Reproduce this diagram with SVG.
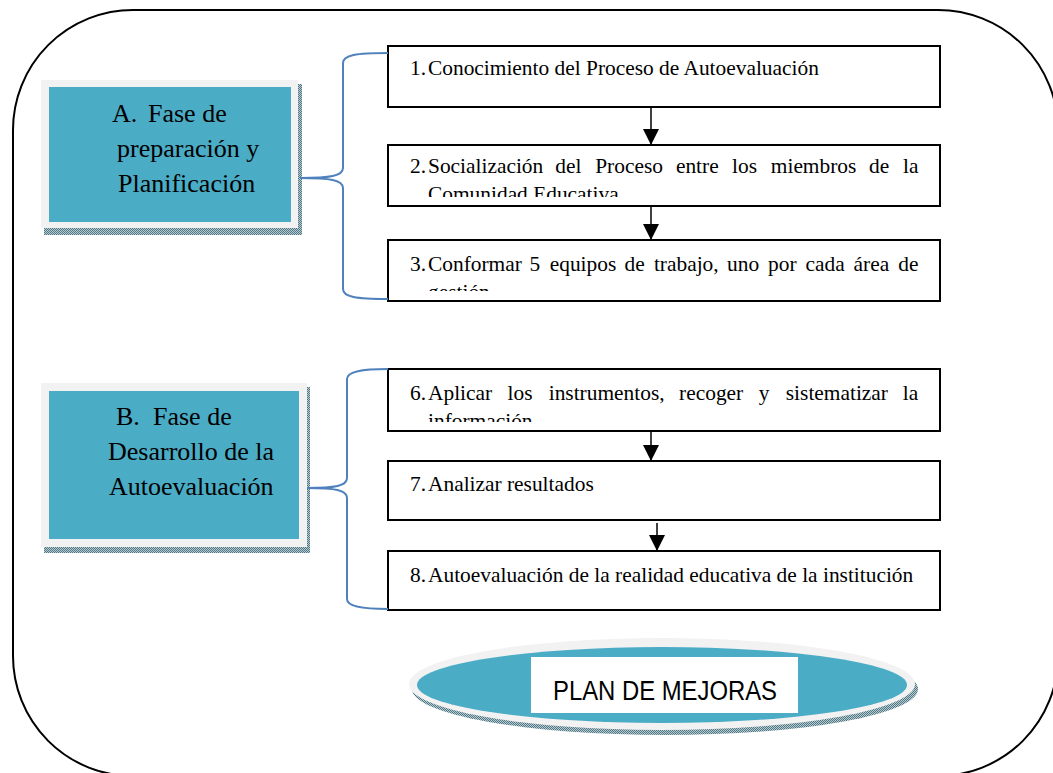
<svg xmlns="http://www.w3.org/2000/svg" width="1053" height="773" viewBox="0 0 1053 773">
<style>
.box{fill:#fff;stroke:#000;stroke-width:2}
.t{font-family:"Liberation Serif","Times New Roman",serif;font-size:21.4px;fill:#000}
.big{font-family:"Liberation Serif","Times New Roman",serif;font-size:26px;fill:#000}
.frame{fill:#f2f2f2}
.teal{fill:#4bacc6}
.shadow{fill:url(#dots)}
.conn{fill:none;stroke:#000;stroke-width:1.5}
.brace{fill:none;stroke:#4f81bd;stroke-width:2}
</style>
<defs>
<pattern id="dots" width="2" height="2" patternUnits="userSpaceOnUse">
<rect width="2" height="2" fill="#b9cbd0"/>
<rect width="1" height="1" fill="#4f7884"/>
<rect x="1" y="1" width="1" height="1" fill="#4f7884"/>
</pattern>
<marker id="ah" markerUnits="userSpaceOnUse" markerWidth="16" markerHeight="16" viewBox="0 0 16 16" refX="16" refY="8" orient="auto">
<path d="M0,0 L16,8 L0,16 Z" fill="#000"/>
</marker>
<clipPath id="c2"><rect x="389" y="146" width="550" height="51"/></clipPath>
<clipPath id="c3"><rect x="389" y="241" width="550" height="50"/></clipPath>
<clipPath id="c6"><rect x="389" y="370" width="550" height="52"/></clipPath>
</defs>

<rect id="outer" x="13" y="10" width="1045" height="766" rx="120" ry="120" fill="none" stroke="#000" stroke-width="2"/>

<g id="phaseA">
<rect class="shadow" x="44" y="84" width="258" height="151"/>
<rect class="frame" x="41" y="80" width="257" height="148"/>
<rect class="teal" x="49" y="87" width="242" height="135"/>
<text class="big"><tspan x="112" y="122">A.</tspan><tspan x="148" y="122">Fase de</tspan><tspan x="117" y="157">preparación y</tspan><tspan x="118" y="192">Planificación</tspan></text>
</g>

<g id="phaseB">
<rect class="shadow" x="44" y="387" width="266" height="166"/>
<rect class="frame" x="41" y="383" width="266" height="164"/>
<rect class="teal" x="49" y="391" width="250" height="148"/>
<text class="big"><tspan x="116" y="425">B.</tspan><tspan x="153" y="425">Fase de</tspan><tspan x="108" y="460">Desarrollo de la</tspan><tspan x="109" y="495">Autoevaluación</tspan></text>
</g>

<g id="step1">
<rect class="box" x="388" y="46" width="552" height="61"/>
<text class="t"><tspan x="410" y="75">1.</tspan><tspan x="428" y="75">Conocimiento del Proceso de Autoevaluación</tspan></text>
</g>

<g id="step2">
<rect class="box" x="388" y="145" width="552" height="61"/>
<g clip-path="url(#c2)">
<text class="t" y="173"><tspan x="410">2.</tspan><tspan x="428">Socialización</tspan><tspan x="555.3">del</tspan><tspan x="595.2">Proceso</tspan><tspan x="675.9">entre</tspan><tspan x="732.1">los</tspan><tspan x="770.8">miembros</tspan><tspan x="869">de</tspan><tspan x="903">la</tspan></text>
<text class="t" x="428" y="201">Comunidad Educativa</text>
</g>
</g>

<g id="step3">
<rect class="box" x="388" y="240" width="552" height="61"/>
<g clip-path="url(#c3)">
<text class="t" y="271"><tspan x="410">3.</tspan><tspan x="428">Conformar</tspan><tspan x="529.6">5</tspan><tspan x="549.7">equipos</tspan><tspan x="624.5">de</tspan><tspan x="653.9">trabajo,</tspan><tspan x="727">uno</tspan><tspan x="768">por</tspan><tspan x="805.6">cada</tspan><tspan x="853.6">área</tspan><tspan x="898.2">de</tspan></text>
<text class="t" x="428" y="299">gestión</text>
</g>
</g>

<g id="step6">
<rect class="box" x="388" y="369" width="552" height="62"/>
<g clip-path="url(#c6)">
<text class="t" y="400"><tspan x="410">6.</tspan><tspan x="428">Aplicar</tspan><tspan x="507.6">los</tspan><tspan x="548.7">instrumentos,</tspan><tspan x="679.1">recoger</tspan><tspan x="758.7">y</tspan><tspan x="785.8">sistematizar</tspan><tspan x="902.7">la</tspan></text>
<text class="t" x="428" y="428">información</text>
</g>
</g>

<g id="step7">
<rect class="box" x="388" y="461" width="552" height="59"/>
<text class="t"><tspan x="410" y="491">7.</tspan><tspan x="428" y="491">Analizar resultados</tspan></text>
</g>

<g id="step8">
<rect class="box" x="388" y="551" width="552" height="59"/>
<text class="t"><tspan x="410" y="582">8.</tspan><tspan x="428" y="582">Autoevaluación de la realidad educativa de la institución</tspan></text>
</g>

<g id="plan">
<ellipse class="shadow" cx="665" cy="689" rx="253" ry="46"/>
<ellipse cx="662" cy="684" rx="253" ry="46" fill="#f2f2f2"/>
<ellipse class="teal" cx="662" cy="685" rx="245" ry="38"/>
<rect x="531" y="657" width="267" height="56" fill="#fff"/>
<text x="553" y="700" font-family="'Liberation Sans',Arial,sans-serif" font-size="27" textLength="224" lengthAdjust="spacingAndGlyphs" fill="#000">PLAN DE MEJORAS</text>
</g>

<g id="connectors">
<path class="brace" d="M300,178 C330,178 343,176 343,168 L343,63 C343,55 356,53 388,53"/>
<path class="brace" d="M300,178 C330,178 343,180 343,188 L343,289 C343,297 356,299 388,299"/>
<path class="brace" d="M307,488 C335,488 347,486 347,478 L347,379 C347,372 360,369 388,369"/>
<path class="brace" d="M307,488 C335,488 347,490 347,498 L347,599 C347,606 360,609 388,609"/>
<line class="conn" x1="651" y1="107" x2="651" y2="145" marker-end="url(#ah)"/>
<line class="conn" x1="651" y1="206" x2="651" y2="240" marker-end="url(#ah)"/>
<line class="conn" x1="651" y1="431" x2="651" y2="461" marker-end="url(#ah)"/>
<line class="conn" x1="657" y1="523" x2="657" y2="551" marker-end="url(#ah)"/>
</g>
</svg>
